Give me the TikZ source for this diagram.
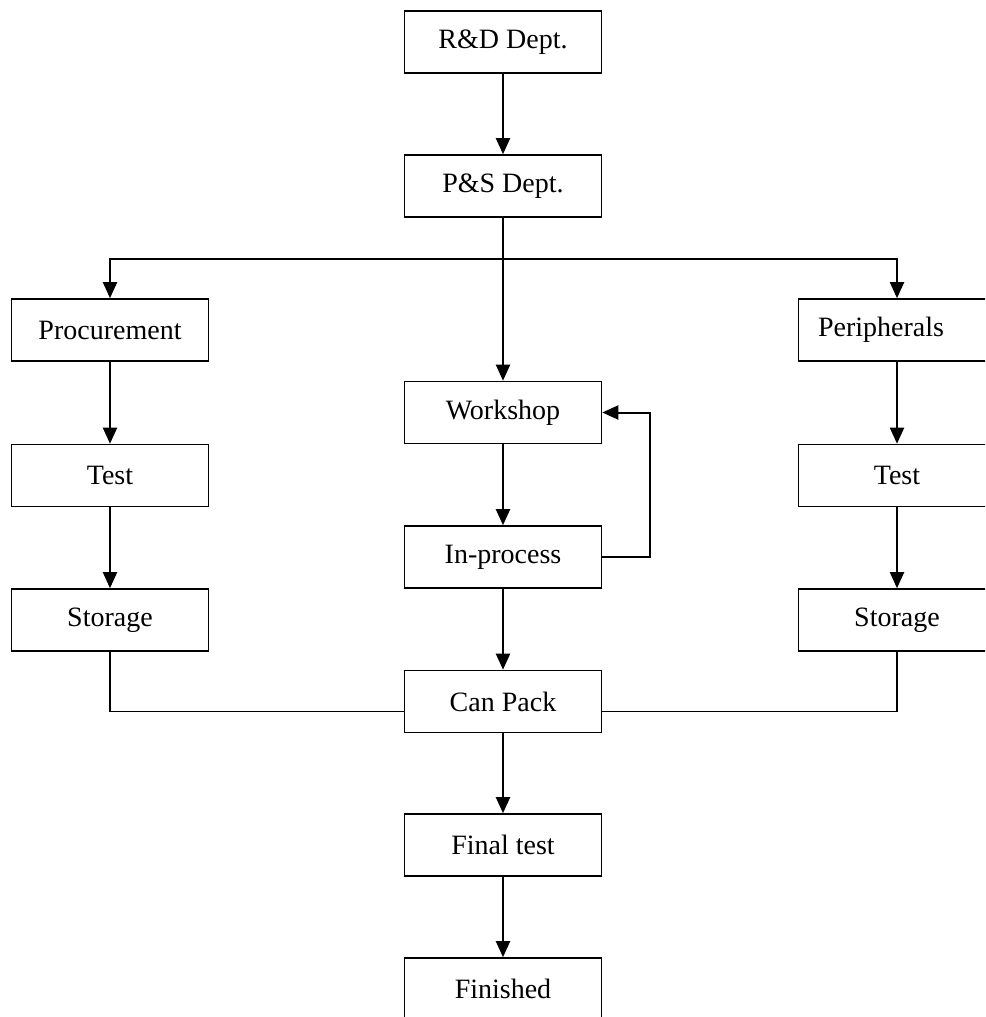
\documentclass[tikz,border=0pt]{standalone}
\usepackage{fontspec}
\setmainfont{Liberation Serif}
\usetikzlibrary{arrows.meta}
\begin{document}
\begin{tikzpicture}[x=1pt,y=-1pt,
  box/.style={draw,line width=1.6pt,minimum width=197pt,minimum height=62pt,inner sep=0pt,font=\fontsize{28}{30}\selectfont},
  arr/.style={line width=2pt,-{Triangle[length=16pt,width=14pt]}},
  ln/.style={line width=1.5pt}]
\clip (0,0) rectangle (985,1017);
\fill[white] (0,0) rectangle (985,1017);
\node[box] (rd) at (503,42) {R\&D Dept.};
\node[box] (ps) at (503,186) {P\&S Dept.};
\node[box] (proc) at (110,330) {Procurement};
\node[box] (peri) at (897,330) {Peripherals\kern32pt\relax};
\node[box] (ws) at (503,412.5) {Workshop};
\node[box] (t1) at (110,475.5) {Test};
\node[box] (t2) at (897,475.5) {Test};
\node[box] (ip) at (503,557) {In-process};
\node[box] (s1) at (110,620) {Storage};
\node[box] (s2) at (897,620) {Storage};
\node[box] (cp) at (503,701.5) {Can Pack};
\node[box] (ft) at (503,845) {Final test};
\node[box] (fi) at (503,989) {Finished};
\draw[arr] (rd) -- (ps);
\draw[arr] (ps) -- (ws);
\draw[arr] (ps.south) -- ++(0,41) -| (proc.north);
\draw[arr] (ps.south) -- ++(0,41) -| (peri.north);
\draw[arr] (proc) -- (t1);
\draw[arr] (t1) -- (s1);
\draw[arr] (peri) -- (t2);
\draw[arr] (t2) -- (s2);
\draw[arr] (ws) -- (ip);
\draw[arr] (ip.east) -- ++(48,0) |- (ws.east);
\draw[arr] (ip) -- (cp);
\draw[ln] (s1.south) |- ([yshift=-10pt]cp.west);
\draw[ln] (s2.south) |- ([yshift=-10pt]cp.east);
\draw[arr] (cp) -- (ft);
\draw[arr] (ft) -- (fi);
\end{tikzpicture}
\end{document}
